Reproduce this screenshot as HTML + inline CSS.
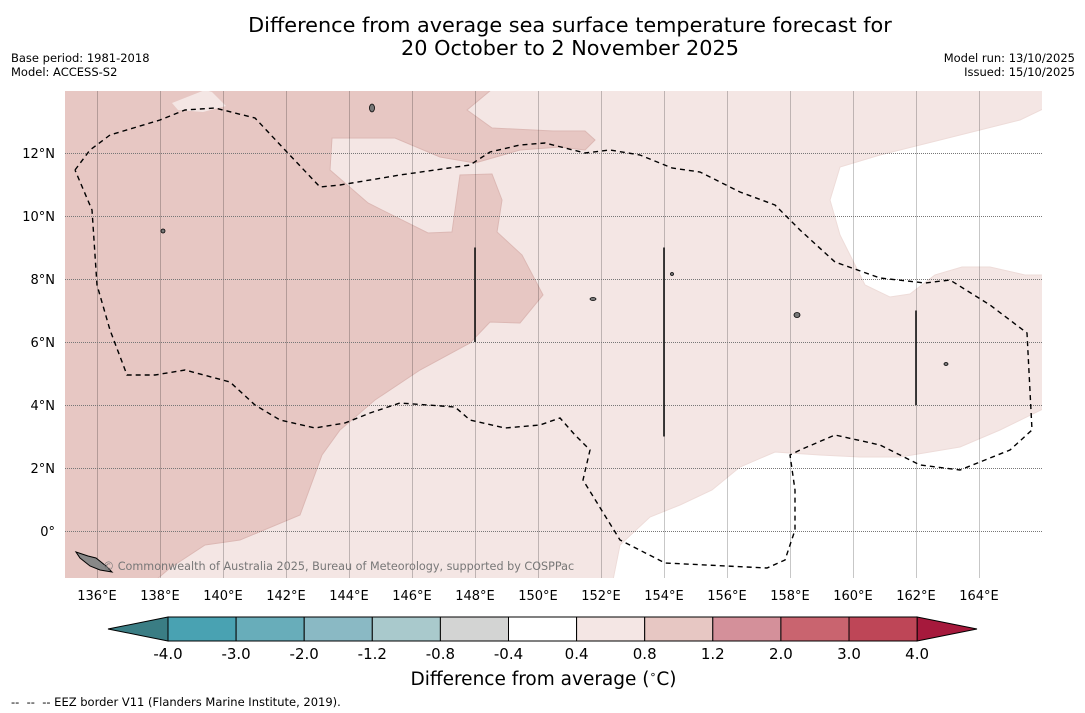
<!DOCTYPE html>
<html><head><meta charset="utf-8">
<style>
body{margin:0;background:#fff;font-family:"DejaVu Sans","Liberation Sans",sans-serif;}
#wrap{position:relative;width:1085px;height:713px;overflow:hidden;background:#fff}
.t{position:absolute;white-space:nowrap;color:#000}
</style></head><body>
<div id="wrap">
<div class="t" style="left:0;width:1140px;top:14px;text-align:center;font-size:20.8px;line-height:23px">Difference from average sea surface temperature forecast for<br>20 October to 2 November 2025</div>
<div class="t" style="left:11px;top:51px;font-size:11.5px;line-height:14px">Base period: 1981-2018<br>Model: ACCESS-S2</div>
<div class="t" style="right:10px;top:51px;font-size:11.5px;line-height:14px;text-align:right">Model run: 13/10/2025<br>Issued: 15/10/2025</div>
<svg id="svg" width="1085" height="713" style="position:absolute;left:0;top:0"></svg>
<div class="t" style="left:0;width:1087px;top:668px;text-align:center;font-size:18.5px">Difference from average (<sup style="font-size:11px">∘</sup>C)</div>
<div class="t" style="left:11px;top:695px;font-size:11.5px">-- &nbsp;-- &nbsp;-- EEZ border V11 (Flanders Marine Institute, 2019).</div>
</div>
<script>
const lonTicks=[136,138,140,142,144,146,148,150,152,154,156,158,160,162,164];
const latTicks=[0,2,4,6,8,10,12];
const levels=[-4.0,-3.0,-2.0,-1.2,-0.8,-0.4,0.4,0.8,1.2,2.0,3.0,4.0];
const levelLabels=["-4.0","-3.0","-2.0","-1.2","-0.8","-0.4","0.4","0.8","1.2","2.0","3.0","4.0"];
const binColors=["#49a2b2","#68adba","#8ab9c4","#a9c9cc","#d3d4d3","#ffffff","#f4e6e4","#e7c7c3","#d4909a","#c9646f","#be4657"];
const underColor="#3a7d84", overColor="#a6193c";
const markerLon=[148,154,162];
const markerLatFrom=[6,3,4];
const markerLatTo=[9,9,7];

const X0=65,X1=1042,Y0=91,Y1=578;
const x=lon=>97+(lon-136)*31.5;
const y=lat=>531-lat*31.5;
const NS="http://www.w3.org/2000/svg";
const svg=document.getElementById('svg');
function mk(tag,attrs,parent){const e=document.createElementNS(NS,tag);for(const k in attrs)e.setAttribute(k,attrs[k]);(parent||svg).appendChild(e);return e;}
const clip=mk('clipPath',{id:'mc'});mk('rect',{x:X0,y:Y0,width:X1-X0,height:Y1-Y0},clip);
const g=mk('g',{'clip-path':'url(#mc)'});


mk('rect',{x:X0,y:Y0,width:X1-X0,height:Y1-Y0,fill:"#f4e6e4"},g);
const dark=mk('polygon',{fill:"#e7c7c3",stroke:"#dcb8b4","stroke-width":1,points:"60,85 497,85 467,110 492,128 553,131 585,131 595,140 585,150 560,147 520,150 475,163 440,157 395,138 332,138 330,170 368,203 428,233 452,232 460,175 492,174 502,200 497,232 522,255 543,295 520,323 490,322 470,343 420,370 375,400 340,430 322,455 300,515 240,540 205,545 170,568 150,585 60,585"},g);


mk('polygon',{fill:"#f4e6e4",points:"172,103 205,90 212,92 226,106 203,112 178,110"},g);
const w1=mk('polygon',{fill:"#ffffff",stroke:"#eedcd9","stroke-width":1,points:"1045,108 1020,120 940,140 880,155 840,167 830,200 840,235 865,285 890,297 910,294 935,275 962,267 990,267 1025,275 1045,275"},g);


const w2=mk('polygon',{fill:"#ffffff",stroke:"#eedcd9","stroke-width":1,points:"1045,408 1000,430 960,447 900,457 860,457 820,455 775,452 740,467 712,490 680,505 650,517 620,545 612,585 1045,585"},g);


// grid
lonTicks.forEach(l=>{const e=mk('line',{x1:Math.round(x(l))+0.5,x2:Math.round(x(l))+0.5,y1:Y0,y2:Y1,stroke:"#000","stroke-opacity":0.22,"stroke-width":1},g);

});
latTicks.forEach(l=>{const e=mk('line',{x1:X0,x2:X1,y1:Math.round(y(l))+0.5,y2:Math.round(y(l))+0.5,stroke:"#777","stroke-width":1,"stroke-dasharray":"1,1"},g);

});
// EEZ
const eez=mk('polyline',{fill:"none",stroke:"#000","stroke-width":1.4,"stroke-dasharray":"5,4",points:"75,170 90,150 110,135 160,120 185,110 215,108 255,118 285,150 320,187 340,185 400,175 470,165 490,152 520,145 545,143 585,153 610,150 640,155 672,168 700,172 740,192 775,205 800,230 835,262 880,278 925,283 950,280 990,305 1027,333 1032,430 1010,450 960,470 920,465 880,445 835,435 800,450 790,455 795,490 795,530 785,560 767,568 665,563 620,540 583,480 590,450 575,435 560,418 540,425 505,428 470,420 455,407 400,403 370,413 345,423 315,428 280,420 255,405 230,382 185,370 155,375 127,375 110,330 97,285 92,210 75,170"},g);


markerLon.forEach((l,i)=>{const e=mk('line',{x1:x(l),x2:x(l),y1:y(markerLatTo[i]),y2:y(markerLatFrom[i]),stroke:"#111","stroke-width":1.6},g);

});
// small islands
[[372,108,2.5,4],[797,315,3,2.5],[946,364,2,1.5],[163,231,2,2],[593,299,3,1.5],[672,274,1.5,1.5]].forEach(p=>{const e=mk('ellipse',{cx:p[0],cy:p[1],rx:p[2],ry:p[3],fill:"#777",stroke:"#000","stroke-width":0.8},g);

});
mk('polygon',{fill:"#888",stroke:"#000","stroke-width":1,points:"76,552 88,556 96,558 106,566 112,572 100,570 90,566 80,558"},g);
const cr=mk('text',{x:103,y:570,"font-size":11.2,fill:"#777","font-family":"DejaVu Sans, Liberation Sans, sans-serif"},g);
cr.textContent="© Commonwealth of Australia 2025, Bureau of Meteorology, supported by COSPPac";


// tick labels
lonTicks.forEach(l=>{const t=mk('text',{x:x(l),y:600,"text-anchor":"middle","font-size":13,"font-family":"DejaVu Sans, Liberation Sans, sans-serif"});t.textContent=l+"°E";

});
latTicks.forEach(l=>{const t=mk('text',{x:55,y:y(l)+5,"text-anchor":"end","font-size":13,"font-family":"DejaVu Sans, Liberation Sans, sans-serif"});t.textContent=l===0?"0°":l+"°N";

});
// colorbar
const CB0=168,CBW=68.1,CT=617,CB=641;
const cbx=i=>CB0+i*CBW;
const u=mk('polygon',{points:`108,${(CT+CB)/2} ${CB0},${CT} ${CB0},${CB}`,fill:underColor,stroke:"#000","stroke-width":1});


const o=mk('polygon',{points:`977,${(CT+CB)/2} ${cbx(11)},${CT} ${cbx(11)},${CB}`,fill:overColor,stroke:"#000","stroke-width":1});


binColors.forEach((c,i)=>{const r=mk('rect',{x:cbx(i),y:CT,width:CBW,height:CB-CT,fill:c,stroke:"#000","stroke-width":1});

});
levels.forEach((v,i)=>{const t=mk('text',{x:cbx(i),y:659,"text-anchor":"middle","font-size":15,"font-family":"DejaVu Sans, Liberation Sans, sans-serif"});t.textContent=levelLabels[i];

});
</script>
</body></html>
